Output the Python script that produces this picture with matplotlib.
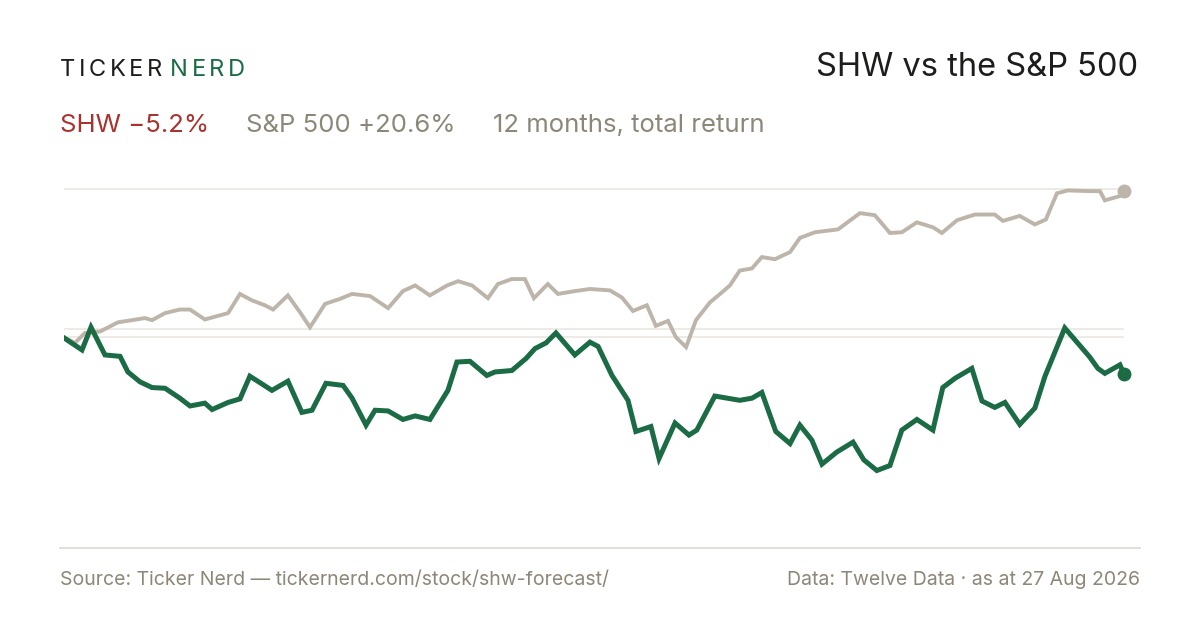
import numpy as np
import matplotlib.pyplot as plt
from matplotlib.lines import Line2D

plt.rcParams['font.family'] = ['Inter', 'DejaVu Sans']

# days since start, cumulative total return in %
spx_days = [0, 3.8, 7.2, 12.4, 18.6, 23.4, 27.9, 30.3, 34.8, 39.9, 43.4, 48.5, 56.5, 60.6, 64.7, 69.2,
            72.0, 77.1, 81.3, 84.7, 89.9, 95.0, 99.2, 105.4, 111.6, 116.7, 120.9, 126.0, 131.9, 135.7,
            140.5, 146.0, 149.4, 154.2, 158.7, 161.8, 166.6, 170.1, 175.9, 181.1, 188.0, 192.1, 195.9,
            200.7, 203.8, 208.0, 210.7, 214.2, 217.6, 222.4, 225.9, 229.3, 232.7, 236.9, 240.3, 244.8,
            250.0, 253.4, 258.6, 266.5, 274.1, 279.2, 284.4, 288.5, 293.7, 299.2, 302.3, 307.5, 313.7,
            320.5, 323.3, 329.1, 334.3, 338.1, 341.9, 345.7, 353.2, 356.7, 358.4, 363.6, 365]
spx_ret = [0, -0.8, 0.6, 0.8, 2.1, 2.4, 2.7, 2.4, 3.4, 3.9, 3.9, 2.5, 3.4, 6.1, 5.2, 4.5, 3.9, 5.9,
           3.5, 1.4, 4.7, 5.4, 6.1, 5.8, 4.1, 6.5, 7.3, 5.9, 7.3, 7.9, 7.3, 5.5, 7.5, 8.2, 8.2, 5.5,
           7.5, 6.1, 6.5, 6.8, 6.6, 5.6, 3.7, 4.5, 1.6, 2.3, 0, -1.4, 2.4, 4.9, 6.1, 7.3, 9.4, 9.7,
           11.3, 11.0, 12.0, 14.0, 14.8, 15.2, 17.5, 17.2, 14.7, 14.8, 16.2, 15.5, 14.7, 16.5, 17.3,
           17.3, 16.4, 17.1, 15.9, 16.6, 20.3, 20.7, 20.6, 20.6, 19.3, 19.9, 20.6]

shw_days = [0, 6.2, 9.3, 14.1, 19.3, 22.0, 26.2, 30.3, 34.8, 39.9, 43.4, 48.5, 51.0, 56.5, 60.6, 64.0,
            68.2, 71.6, 77.1, 81.9, 85.4, 90.2, 96.1, 99.2, 104.0, 107.1, 111.6, 116.7, 120.9, 126.0,
            132.2, 135.3, 139.8, 145.6, 148.4, 154.2, 159.1, 162.2, 166.0, 169.4, 175.9, 181.1, 183.9,
            188.7, 194.2, 196.9, 202.1, 204.9, 210.4, 215.2, 217.9, 224.1, 232.7, 236.9, 240.3, 245.1,
            250.0, 253.4, 257.5, 261.0, 266.1, 271.7, 275.4, 279.9, 284.4, 288.5, 293.7, 299.2, 302.6,
            306.8, 312.6, 316.1, 320.5, 324.0, 329.1, 334.3, 337.8, 344.6, 353.2, 356.0, 358.4, 363.6, 365]
shw_ret = [-0.1, -1.8, 1.4, -2.5, -2.7, -4.9, -6.3, -7.1, -7.2, -8.6, -9.7, -9.3, -10.2, -9.2, -8.7,
           -5.5, -6.6, -7.5, -6.2, -10.6, -10.3, -6.5, -6.8, -8.6, -12.4, -10.3, -10.4, -11.6, -11.1,
           -11.6, -7.5, -3.5, -3.4, -5.4, -4.9, -4.7, -3.0, -1.6, -0.8, 0.6, -2.5, -0.7, -1.3, -5.4,
           -8.9, -13.3, -12.6, -17.1, -12.1, -13.8, -13.1, -8.3, -8.9, -8.6, -7.8, -13.3, -15.0, -12.4,
           -14.5, -17.9, -16.2, -14.8, -17.3, -18.8, -18.1, -13.1, -11.6, -13.1, -7.1, -5.8, -4.4,
           -9.0, -9.9, -9.2, -12.3, -10.0, -5.5, 1.3, -2.8, -4.4, -5.1, -3.9, -5.2]

grid_vals = [20.9, 1.1]

GREEN = '#1b6b45'
GREY = '#bdb5aa'
RED = '#a8322d'
TXT = '#8c8778'

fig = plt.figure(figsize=(12, 6.3), dpi=100)
ax = fig.add_axes([64/1200, 90/630, 1060/1200, 390/630])
ax.set_xlim(0, 365)
ax.set_ylim(-28.6, 26.4)
ax.axis('off')

for g in grid_vals:
    ax.axhline(g, color='#ebe8e2', lw=1.2, zorder=0)
ax.axhline(0, color='#ebe8e2', lw=1.2, zorder=0)

ax.plot(spx_days, spx_ret, color=GREY, lw=2.8, solid_joinstyle='miter', zorder=2)
ax.plot(shw_days, shw_ret, color=GREEN, lw=3.6, solid_joinstyle='miter', zorder=3)
ax.plot(spx_days[-1], spx_ret[-1], 'o', color=GREY, ms=9, zorder=4, clip_on=False)
ax.plot(shw_days[-1], shw_ret[-1], 'o', color=GREEN, ms=9, zorder=4, clip_on=False)

fig.add_artist(Line2D([60/1200, 1140/1200], [82/630, 82/630], color='#dcd8cf', lw=1.2))

# header: letter-spaced wordmark
x = 60
for word, c in [('TICKER', '#1d1d1b'), ('NERD', GREEN)]:
    for ch in word:
        tt = fig.text(x/1200, 1 - 70/630, ch, fontsize=17, color=c, va='center')
        fig.canvas.draw()
        x = tt.get_window_extent().x1 + 3.6
    x += 4

fig.text(1138/1200, 1 - 68/630, 'SHW vs the S&P 500', fontsize=23.5, color='#1d1d1b',
         ha='right', va='center')

x = 60
for s, c in [('SHW \u22125.2%', RED), ('S&P 500 +20.6%', TXT), ('12 months, total return', TXT)]:
    tt = fig.text(x/1200, 1 - 125/630, s, fontsize=18.5, color=c, va='center')
    fig.canvas.draw()
    x = tt.get_window_extent().x1 + 37

fig.text(60/1200, 1 - 580/630, 'Source: Ticker Nerd \u2014 tickernerd.com/stock/shw-forecast/',
         fontsize=14, color=TXT, va='center')
fig.text(1140/1200, 1 - 580/630, 'Data: Twelve Data \u00b7 as at 27 Aug 2026',
         fontsize=14, color=TXT, va='center', ha='right')

fig.savefig('out.png', dpi=100)
